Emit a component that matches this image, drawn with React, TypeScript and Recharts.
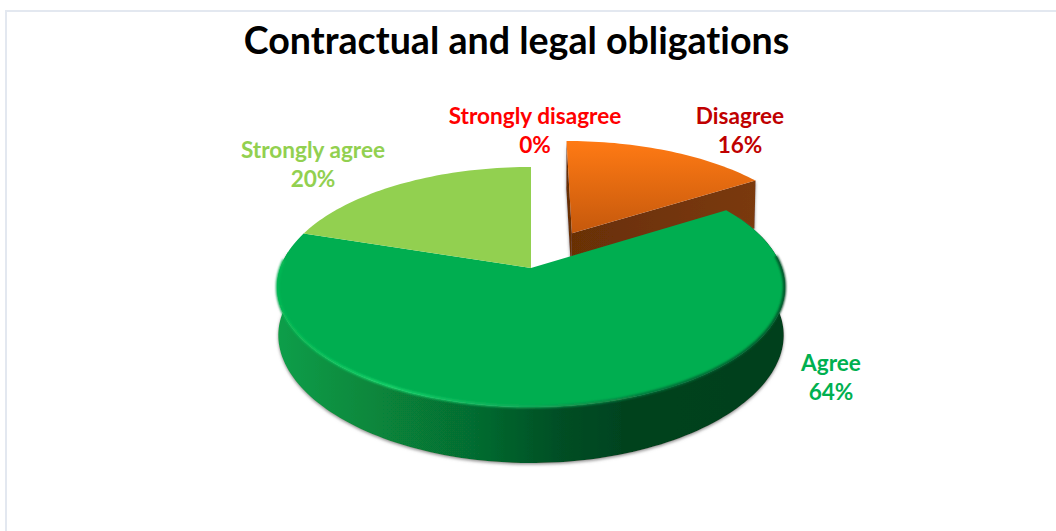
import { Pie, PieChart } from "recharts";

const categories = ["Strongly disagree", "Disagree", "Agree", "Strongly agree"];
const values = [0, 16, 64, 20];
const topFills = ["#FF0000", "url(#orangeTop)", "#00AE50", "#92D050"];
const wallFills = ["#C00000", "url(#orangeWall)", "url(#greenWall)", "#6F9F3C"];
const labelColors = ["#FF0000", "#C00000", "#00B050", "#92D050"];
const explode = [0, 0.355, 0, 0];
const labelSpots = [
  [535, 124],
  [740, 124],
  [831, 371],
  [313, 158]
];

const data = categories.map((name, i) => ({ name, value: values[i] }));

const FONT = "Lato, 'Open Sans', sans-serif";
const PERSPECTIVE = -0.1583;
const TILT = 117 / 250.8;

type P = { x: number; y: number; Y: number };

function pieShape(props: any) {
  const { cx, cy, outerRadius, startAngle, endAngle, midAngle, index } = props;
  const from = 90 - startAngle;
  const to = 90 - endAngle;
  if (Math.abs(to - from) < 0.01) return <g />;

  const mid = ((midAngle === undefined ? (from + to) / 2 : 90 - midAngle) * Math.PI) / 180;
  const e = explode[index] ?? 0;
  const ex = e * Math.sin(mid);
  const ey = -e * Math.cos(mid);

  // circle plane -> screen, with the vanishing point above the pie
  const project = (X: number, Y: number): P => {
    const d = 1 + PERSPECTIVE * Y;
    return {
      x: cx + (outerRadius * X) / d,
      y: cy + (outerRadius * TILT * Y) / d,
      Y
    };
  };
  const rimPoint = (deg: number, r = 1) => {
    const a = (deg * Math.PI) / 180;
    return project(ex + r * Math.sin(a), ey - r * Math.cos(a));
  };
  const drop = (p: P) => ({
    x: cx + (p.x - cx) * 0.995,
    y: p.y + 48 + 8 * Math.max(p.Y, 0) ** 2
  });
  const toPath = (pts: { x: number; y: number }[], close = true) =>
    pts.map((p, i) => `${i ? "L" : "M"}${p.x.toFixed(2)},${p.y.toFixed(2)}`).join(" ") +
    (close ? " Z" : "");
  const arc = (a: number, b: number, r = 1) => {
    const n = Math.max(2, Math.ceil(Math.abs(b - a) / 1.5));
    return Array.from({ length: n + 1 }, (_, i) => rimPoint(a + ((b - a) * i) / n, r));
  };

  const apex = project(ex, ey);
  const rim = arc(from, to);
  const top = toPath([apex, ...rim]);
  const wallFill = wallFills[index];
  const quad = (p: P) => toPath([apex, p, drop(p), drop(apex)]);

  const showOuter = to > 90 && from < 270;
  const frontArc = showOuter ? arc(Math.max(from, 62), Math.min(to, 278)) : [];

  return (
    <g>
      {e > 0 && (
        <g filter="url(#wallShadow)">
          <path d={quad(rimPoint(from))} fill={wallFill} />
          <path d={quad(rimPoint(to))} fill={wallFill} />
        </g>
      )}
      {to === 360 && (
        <path
          d={`M${apex.x + 2},${apex.y - 56} L${apex.x + 2},${apex.y - 3}`}
          stroke="#8f8f8f"
          strokeWidth={2.5}
          filter="url(#softEdge)"
        />
      )}
      {showOuter && (
        <path
          d={toPath([...frontArc, ...frontArc.map(drop).reverse()])}
          fill={wallFill}
          filter="url(#wallShadow)"
        />
      )}
      <path d={top} fill={topFills[index]} />
      {showOuter && (
        <path
          d={toPath(arc(84, 274, 0.998), false)}
          fill="none"
          stroke="url(#rimLight)"
          strokeWidth={2.8}
          filter="url(#softEdge)"
        />
      )}
    </g>
  );
}

function pieLabel(props: any) {
  const { index, name, value } = props;
  const total = values.reduce((a, b) => a + b, 0);
  const [x, y] = labelSpots[index];
  return (
    <text
      x={x}
      y={y}
      textAnchor="middle"
      fontFamily={FONT}
      fontWeight={700}
      fontSize={22.6}
      fill={labelColors[index]}
      style={{ fontVariantLigatures: "none" }}
    >
      <tspan x={x}>{name}</tspan>
      <tspan x={x} dy={29}>
        {Math.round((value / total) * 100)}%
      </tspan>
    </text>
  );
}

export default function App() {
  return (
    <div style={{ position: "absolute", left: 0, top: 0, width: 1056, height: 531, background: "#fff", overflow: "hidden" }}>
      <div
        style={{
          position: "absolute",
          left: 5,
          top: 10,
          right: -2,
          bottom: -2,
          border: "2px solid #E3E8F0",
          boxSizing: "border-box"
        }}
      />
      <div
        style={{
          position: "absolute",
          left: 0,
          width: 1033,
          top: 16,
          textAlign: "center",
          fontFamily: FONT,
          fontWeight: 700,
          fontSize: 37.6,
          lineHeight: "48px",
          color: "#000",
          fontVariantLigatures: "none"
        }}
      >
        Contractual and legal obligations
      </div>
      <div style={{ position: "absolute", left: 0, top: 0 }}>
        <PieChart width={1056} height={531} margin={{ top: 0, right: 0, bottom: 0, left: 0 }}>
          <defs>
            <linearGradient id="orangeTop" x1="0" y1="141" x2="0" y2="235" gradientUnits="userSpaceOnUse">
              <stop offset="0" stopColor="#FF7A14" />
              <stop offset="1" stopColor="#C4580C" />
            </linearGradient>
            <linearGradient id="orangeWall" x1="565" y1="0" x2="760" y2="0" gradientUnits="userSpaceOnUse">
              <stop offset="0" stopColor="#682F06" />
              <stop offset="1" stopColor="#7B3A0A" />
            </linearGradient>
            <linearGradient id="greenWall" x1="278" y1="0" x2="785" y2="0" gradientUnits="userSpaceOnUse">
              <stop offset="0" stopColor="#0B9E49" />
              <stop offset="0.2" stopColor="#07853B" />
              <stop offset="0.4" stopColor="#066A2F" />
              <stop offset="0.55" stopColor="#054F25" />
              <stop offset="0.68" stopColor="#04431F" />
              <stop offset="1" stopColor="#03401D" />
            </linearGradient>
            <linearGradient id="rimLight" x1="277" y1="0" x2="785" y2="0" gradientUnits="userSpaceOnUse">
              <stop offset="0" stopColor="#06B955" />
              <stop offset="0.22" stopColor="#1AD56C" />
              <stop offset="0.5" stopColor="#12A858" />
              <stop offset="0.72" stopColor="#06733A" />
              <stop offset="1" stopColor="#044F26" />
            </linearGradient>
            <filter id="wallShadow" x="-5%" y="-5%" width="110%" height="115%">
              <feDropShadow dx="0" dy="1.5" stdDeviation="1.5" floodColor="#777" floodOpacity="0.8" />
            </filter>
            <filter id="softEdge" x="-5%" y="-5%" width="110%" height="110%">
              <feGaussianBlur stdDeviation="0.9" />
            </filter>
          </defs>
          <Pie
            data={data}
            dataKey="value"
            nameKey="name"
            cx={531}
            cy={268}
            outerRadius={250.8}
            startAngle={90}
            endAngle={-270}
            stroke="none"
            shape={pieShape}
            label={pieLabel}
            labelLine={false}
            isAnimationActive={false}
          />
        </PieChart>
      </div>
    </div>
  );
}
